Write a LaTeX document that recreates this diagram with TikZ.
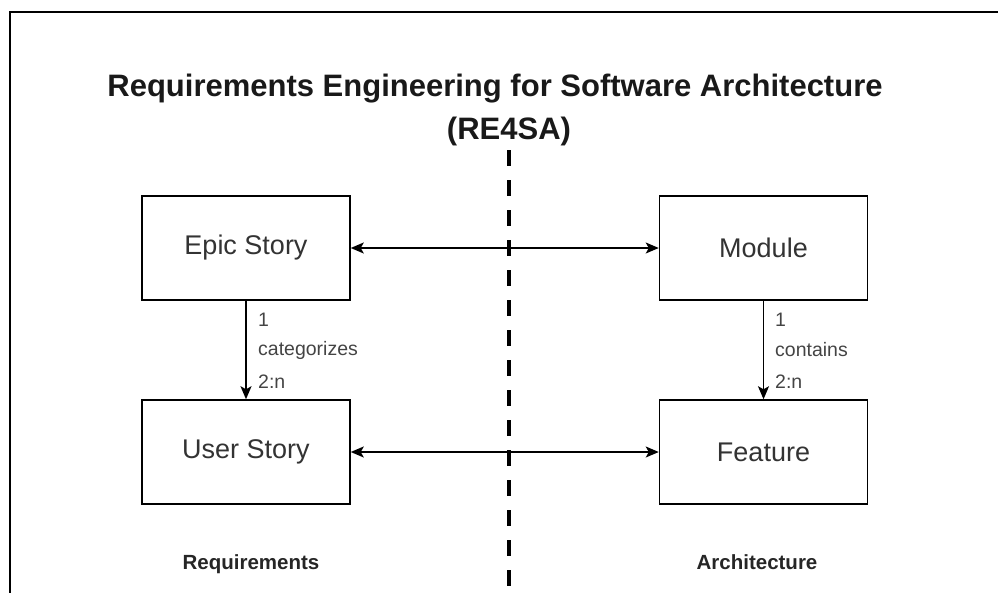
\documentclass[tikz,border=0pt]{standalone}
\usepackage{fontspec}
\setmainfont{Liberation Sans}
\usetikzlibrary{arrows.meta}
\definecolor{boxtext}{HTML}{333333}
\definecolor{labeltext}{HTML}{444444}
\tikzset{
  entity/.style={draw=black, line width=1.5pt, fill=white, minimum width=208pt,
    minimum height=104pt, inner sep=0pt, text=boxtext,
    font=\fontsize{27}{31}\selectfont},
  link/.style={line width=1.5pt, {Stealth[length=13pt,width=11pt,inset=3pt]}-{Stealth[length=13pt,width=11pt,inset=3pt]}},
  relation/.style={line width=1.5pt, -{Stealth[length=13pt,width=11pt,inset=3pt]}},
  cardlabel/.style={anchor=west, inner sep=0pt, text=labeltext,
    font=\fontsize{19.5}{22}\selectfont},
  sidelabel/.style={inner sep=0pt, anchor=base, text=black!85, font=\bfseries\fontsize{20.5}{24}\selectfont},
  titlestyle/.style={inner sep=0pt, anchor=base, text=black!90, font=\bfseries\fontsize{31}{36}\selectfont},
}
\begin{document}
\begin{tikzpicture}[x=1pt, y=-1pt]
  \useasboundingbox (0,0) rectangle (998,592);
  % outer frame (runs off the right and bottom edges)
  \draw[line width=2pt] (9.5,600) -- (9.5,12) -- (1010,12);

  % title
  \node[titlestyle] (title1) at (495,96) {Requirements Engineering for Software Architecture};
  \node[titlestyle] (title2) at (509,139) {(RE4SA)};

  % dividing line
  \coordinate (divtop) at (509,150);
  \coordinate (divbot) at (509,600);
  \draw[line width=4.5pt, dash pattern=on 16pt off 14pt] (divtop) -- (divbot);

  % entities
  \node[entity] (epic) at (246,248) {Epic Story};
  \node[entity] (user) at (246,452) {User Story};
  \node[entity] (module) at (763.5,248) {Module};
  \node[entity] (feature) at (763.5,452) {Feature};

  % traces between requirements and architecture
  \draw[link] (epic.east) -- (module.west);
  \draw[link] (user.east) -- (feature.west);

  % hierarchy relations
  \draw[relation] (epic.south) -- (user.north);
  \draw[relation] (module.south) -- (feature.north);

  \node[cardlabel] (c1) at (258,320) {1};
  \node[cardlabel] (c2) at (258,350) {categorizes};
  \node[cardlabel] (c3) at (258,382) {2:n};
  \node[cardlabel] (m1) at (775,320) {1};
  \node[cardlabel] (m2) at (775,350) {contains};
  \node[cardlabel] (m3) at (775,382) {2:n};

  % side captions
  \node[sidelabel] (req) at (251,569) {Requirements};
  \node[sidelabel] (arch) at (757,569) {Architecture};
\end{tikzpicture}
\end{document}
